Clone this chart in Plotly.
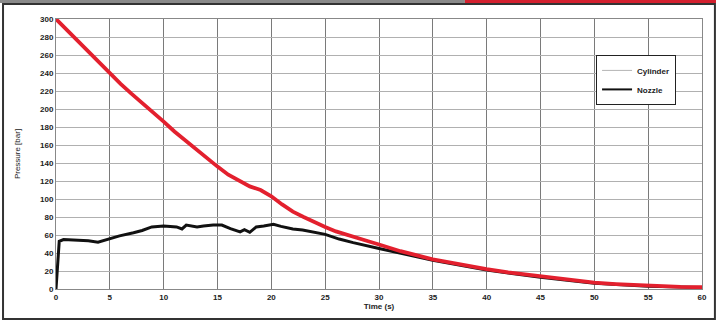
import plotly.graph_objects as go

# Cylinder pressure (red)
cyl_t = [0, 1, 2, 3, 4, 5, 6, 7, 8, 9, 10, 11, 12, 13, 14, 15, 16, 16.5, 17, 18, 19, 20,
         21, 22, 23, 24, 25, 26, 27, 28, 29, 30, 32, 35, 38, 40, 42, 45, 48, 50, 52, 55, 58, 60]
cyl_p = [300, 288, 276, 264, 251, 239, 228, 217, 207, 196, 186, 175, 165, 155, 145, 136, 127, 124,
         121, 114, 110, 103, 94, 86, 80, 74, 69, 64, 60, 56, 53, 49.5, 42, 33, 26, 22, 18.5, 14,
         9.5, 7, 5.5, 3.5, 2.3, 2]

# Nozzle pressure (black)
noz_t = [0, 0.3, 0.7, 1.9, 3, 3.9, 4.5, 4.9, 5.9, 7.2, 8, 8.9, 10, 11.2, 11.7, 12.1, 13.1, 13.7,
         14.6, 15.4, 16.2, 17.1, 17.5, 18, 18.6, 19.3, 20.2, 20.9, 22, 22.9, 23.8, 25, 26.3, 27.6,
         30, 32, 35, 40, 45, 50, 55, 60]
noz_p = [0, 53, 55, 54.5, 53.5, 52, 54, 56, 59, 62.5, 65, 69, 70, 69, 66.7, 71, 69, 70,
         71, 71, 67, 63.5, 66, 63, 69, 70, 72, 69.6, 66.7, 65.6, 63.7, 60.7, 55.5, 51.5,
         45, 39.5, 32, 21, 13, 6.5, 3, 1.8]

x_ticks = list(range(0, 61, 5))
y_ticks = list(range(0, 301, 20))

font_fam = "Liberation Sans Narrow, Arial Narrow, Liberation Sans, sans-serif"

fig = go.Figure()
fig.add_trace(go.Scatter(x=noz_t, y=noz_p, mode="lines", line=dict(color="#111111", width=3),
                         showlegend=False, hoverinfo="skip"))
fig.add_trace(go.Scatter(x=cyl_t, y=cyl_p, mode="lines", line=dict(color="#e3202e", width=3.8),
                         showlegend=False, hoverinfo="skip"))
# legend entries
fig.add_trace(go.Scatter(x=[None], y=[None], mode="lines", name="Cylinder",
                         line=dict(color="#b5b5b5", width=1)))
fig.add_trace(go.Scatter(x=[None], y=[None], mode="lines", name="Nozzle",
                         line=dict(color="#111111", width=2)))

fig.update_layout(
    width=716, height=325,
    margin=dict(l=56, r=14, t=19, b=36),
    paper_bgcolor="white", plot_bgcolor="white",
    font=dict(family=font_fam, size=8, color="#222"),
    hovermode=False,
    legend=dict(x=0.836, y=0.867, xanchor="left", yanchor="top",
                bordercolor="#222", borderwidth=1, bgcolor="white",
                font=dict(size=8, family=font_fam, weight="bold"),
                itemwidth=30, tracegroupgap=0),
    xaxis=dict(range=[0, 60], tickvals=x_ticks, ticktext=[str(v) for v in x_ticks],
               showgrid=True, gridcolor="#7a7a7a", gridwidth=1.2, zeroline=False,
               showline=True, linecolor="#888", mirror=True, automargin=False,
               tickfont=dict(size=8, family=font_fam, weight="bold"), ticks="",
               title=dict(text="Time (s)", font=dict(size=8, family=font_fam, weight="bold"), standoff=2)),
    yaxis=dict(range=[0, 300], tickvals=y_ticks, ticktext=[str(v) for v in y_ticks],
               showgrid=True, gridcolor="#b0b0b0", gridwidth=1, zeroline=False,
               showline=True, linecolor="#888", mirror=True, automargin=False,
               tickfont=dict(size=8, family=font_fam, weight="bold"), ticks="",
               title=dict(text="Pressure [bar]", font=dict(size=8, family=font_fam), standoff=18)),
    shapes=[
        dict(type="rect", xref="paper", yref="paper", x0=-0.082, x1=1.02, y0=-0.111, y1=1.056,
             line=dict(color="#333", width=2), fillcolor="rgba(0,0,0,0)", layer="above"),
        dict(type="rect", xref="paper", yref="paper", x0=-0.1, x1=0.633, y0=1.059, y1=1.075,
             line=dict(width=0), fillcolor="#8a8a8a"),
        dict(type="rect", xref="paper", yref="paper", x0=0.633, x1=1.03, y0=1.059, y1=1.075,
             line=dict(width=0), fillcolor="#d3202e"),
    ],
)

fig.write_html("out.html", config={"displayModeBar": False},
               post_script="document.body.style.margin='0';")
